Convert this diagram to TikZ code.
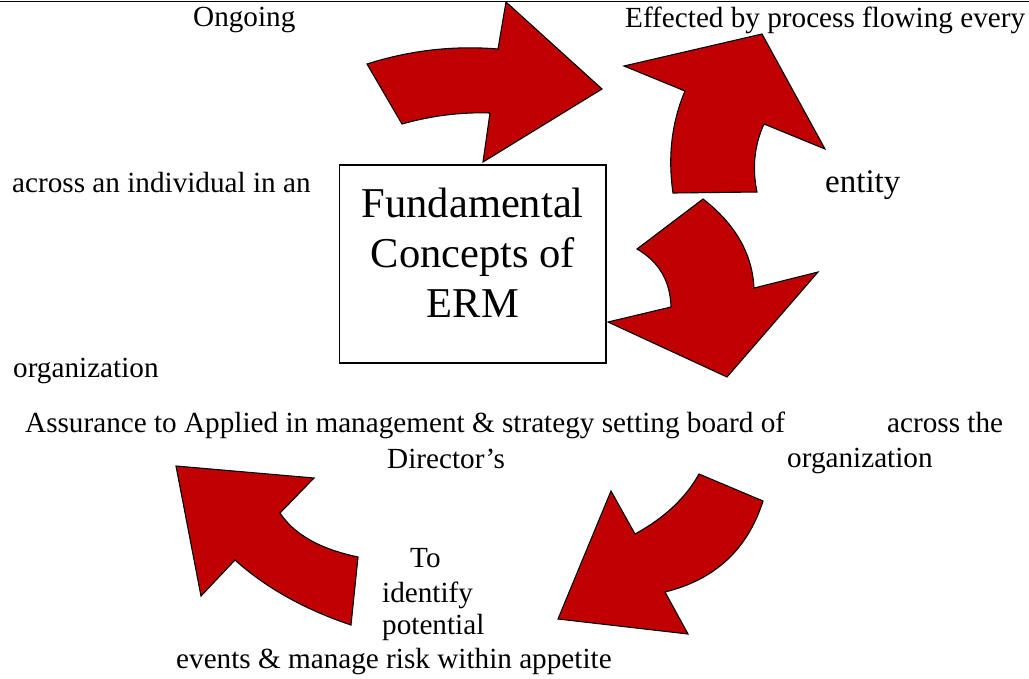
\documentclass[tikz,border=0pt]{standalone}
\usepackage{fontspec}
\setmainfont{Liberation Serif}
\usepackage{tikz}
\definecolor{ermred}{HTML}{C00000}

\begin{document}
\begin{tikzpicture}[x=1pt,y=-1pt,
  bigarrow/.style={fill=ermred,draw=black,line width=1.1pt,line join=miter},
  txt/.style={anchor=base west,inner sep=0pt,font=\fontsize{29.2}{34}\selectfont},
  bigtxt/.style={inner sep=0pt,align=center,font=\fontsize{42.5}{50}\selectfont}]
\useasboundingbox (0,0) rectangle (1029,678);
\draw [line width=1pt] (0,1) -- (1029,1);
% centre box
\node (erm) at (472.75,264) [draw,line width=1.4pt,minimum width=266.5pt,minimum height=198pt] {};
\node (ermtext) at (472.75,253) [bigtxt] {Fundamental\\Concepts of\\ERM};
% arrows round the box
\draw [bigarrow] (367,64) .. controls (410,50.3) and (453.7,45.3) .. (498,49) -- (506,2) -- (602,89)
  -- (483,162) -- (490,113) .. controls (460.7,112) and (431.3,115.7) .. (402,124) -- cycle;
\draw [bigarrow] (673,193) -- (757,192) .. controls (752,168) and (754.3,145.3) .. (764,124) -- (825,149)
  -- (762,34) -- (624,66) -- (685,91) .. controls (671.7,122.3) and (667.7,156.3) .. (673,193) -- cycle;
\draw [bigarrow] (703,199) -- (637,249) .. controls (659,261.7) and (670.3,281) .. (671,307) -- (608,322)
  -- (727,377) -- (818,272) -- (754,288) .. controls (752.3,253.7) and (735.3,224) .. (703,199) -- cycle;
\draw [bigarrow] (699,474) -- (763,501) .. controls (747.7,549.3) and (715,579.7) .. (665,592) -- (688,634)
  -- (558,619) -- (611,491) -- (635,534) .. controls (664.3,518) and (685.7,498) .. (699,474) -- cycle;
\draw [bigarrow] (176,466) -- (314,478) -- (280,513) .. controls (294,534.3) and (320,549) .. (358,557)
  -- (351,625) .. controls (304.3,609.3) and (265.7,587.7) .. (235,560) -- (201,596) -- cycle;
% texts
\node (ongoing) at (193,26) [txt] {Ongoing};
\node (effected) at (625,27) [txt] {Effected by process flowing every};
\node (acrossind) at (12,192) [txt] {across an individual in an};
\node (entity) at (825,192) [txt,font=\fontsize{33}{38}\selectfont] {entity};
\node (orgleft) at (13,377) [txt] {organization};
\node (assurance) at (25,432) [txt] {Assurance to Applied in management \& strategy setting board of};
\node (acrossthe) at (887,432) [txt] {across the};
\node (director) at (387,468) [txt] {Director’s};
\node (orgright) at (787,467) [txt] {organization};
\node (to) at (410,567) [txt] {To};
\node (identify) at (382,602) [txt] {identify};
\node (potential) at (382,634) [txt] {potential};
\node (events) at (176,668) [txt] {events \& manage risk within appetite};
\end{tikzpicture}
\end{document}
